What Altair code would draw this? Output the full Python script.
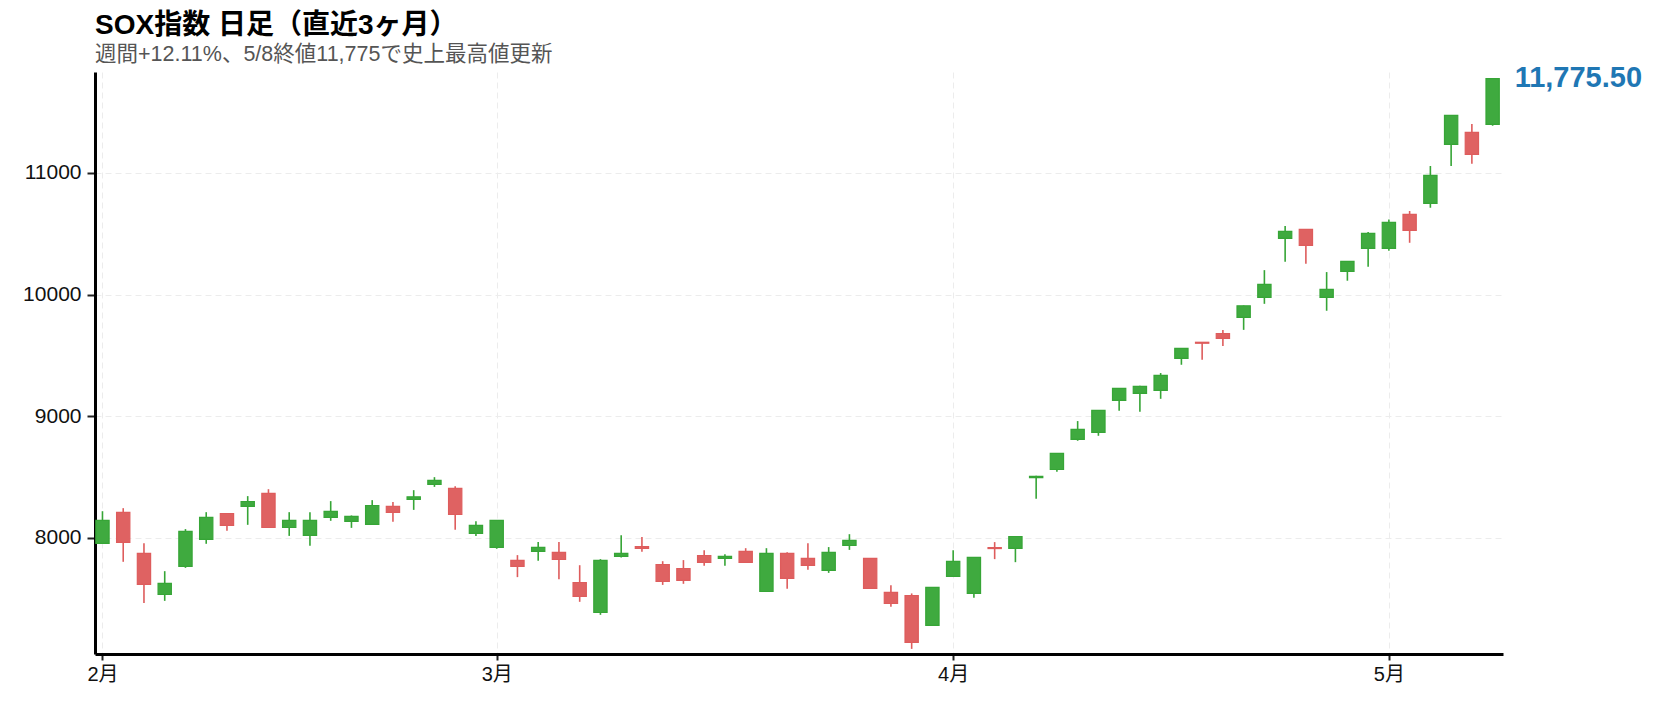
import altair as alt
import pandas as pd

# ---------------- data ----------------
dates = [
    "2026-02-02", "2026-02-03", "2026-02-04", "2026-02-05", "2026-02-06",
    "2026-02-09", "2026-02-10", "2026-02-11", "2026-02-12", "2026-02-13",
    "2026-02-17", "2026-02-18", "2026-02-19", "2026-02-20", "2026-02-23",
    "2026-02-24", "2026-02-25", "2026-02-26", "2026-02-27",
    "2026-03-02", "2026-03-03", "2026-03-04", "2026-03-05", "2026-03-06",
    "2026-03-09", "2026-03-10", "2026-03-11", "2026-03-12", "2026-03-13",
    "2026-03-16", "2026-03-17", "2026-03-18", "2026-03-19", "2026-03-20",
    "2026-03-23", "2026-03-24", "2026-03-25", "2026-03-26", "2026-03-27",
    "2026-03-30", "2026-03-31",
    "2026-04-01", "2026-04-02", "2026-04-06", "2026-04-07", "2026-04-08",
    "2026-04-09", "2026-04-10", "2026-04-13", "2026-04-14", "2026-04-15",
    "2026-04-16", "2026-04-17", "2026-04-20", "2026-04-21", "2026-04-22",
    "2026-04-23", "2026-04-24", "2026-04-27", "2026-04-28", "2026-04-29",
    "2026-04-30",
    "2026-05-01", "2026-05-04", "2026-05-05", "2026-05-06", "2026-05-07",
    "2026-05-08",
]
opens = [
    7954, 8209, 7872, 7534, 7765, 7987, 8200, 8258, 8365, 8085,
    8020, 8168, 8135, 8110, 8258, 8316, 8439, 8406, 8036,
    7921, 7814, 7888, 7880, 7633, 7386, 7847, 7929, 7781, 7748,
    7855, 7831, 7888, 7559, 7872, 7831, 7732, 7937, 7831, 7551,
    7526, 7280,
    7683, 7543, 7920, 7913, 8495, 8562, 8809, 8867, 9130, 9188,
    9212, 9475, 9608, 9680, 9813, 9977, 10462, 10536, 9977, 10191,
    10380,
    10380, 10660, 10750, 11235, 11334, 11400,
]
highs = [
    8219, 8244, 7956, 7726, 8072, 8211, 8203, 8343, 8400, 8211,
    8211, 8302, 8184, 8310, 8294, 8392, 8499, 8425, 8137,
    8146, 7858, 7965, 7965, 7775, 7825, 8022, 8006, 7808, 7817,
    7899, 7866, 7915, 7915, 7882, 7956, 7924, 8030, 7834, 7611,
    7543, 7595,
    7899, 7842, 7965, 8013, 8510, 8696, 8960, 9050, 9231, 9250,
    9355, 9560, 9610, 9708, 9910, 10201, 10563, 10538, 10185, 10275,
    10514,
    10618, 10687, 11057, 11476, 11402, 11778,
]
lows = [
    7950, 7803, 7465, 7482, 7753, 7951, 8058, 8107, 8082, 8016,
    7934, 8140, 8082, 8106, 8132, 8230, 8419, 8066, 8016,
    7910, 7677, 7811, 7660, 7474, 7367, 7839, 7885, 7613, 7622,
    7770, 7770, 7795, 7556, 7581, 7737, 7712, 7901, 7582, 7433,
    7087, 7277,
    7680, 7507, 7825, 7800, 8321, 8543, 8798, 8839, 9044, 9036,
    9143, 9423, 9464, 9577, 9710, 9924, 10270, 10253, 9867, 10114,
    10229,
    10360, 10426, 10714, 11057, 11076, 11388,
]
closes = [
    8143, 7962, 7617, 7625, 8053, 8168, 8102, 8299, 8085, 8143,
    8143, 8217, 8176, 8266, 8209, 8337, 8472, 8192, 8102,
    8143, 7765, 7921, 7822, 7518, 7814, 7872, 7913, 7641, 7650,
    7798, 7847, 7798, 7872, 7666, 7773, 7880, 7979, 7584, 7460,
    7140, 7592,
    7806, 7839, 7912, 8011, 8505, 8694, 8891, 9048, 9229, 9245,
    9336, 9558, 9600, 9640, 9908, 10084, 10520, 10405, 10043, 10273,
    10503,
    10594, 10528, 10980, 11474, 11153, 11775.50,
]
month_names = {2: "2月", 3: "3月", 4: "4月", 5: "5月"}
y_ticks = [8000, 9000, 10000, 11000]
title_text = "SOX指数 日足（直近3ヶ月）"
subtitle_text = "週間+12.11%、5/8終値11,775で史上最高値更新"

FONT = "'Liberation Sans', 'Noto Sans CJK JP', sans-serif"

# ---------------- table ----------------
df = pd.DataFrame({"date": dates, "open": opens, "high": highs,
                   "low": lows, "close": closes})
df["idx"] = range(len(df))
df["dir"] = ["up" if c >= o else "down" for o, c in zip(df["open"], df["close"])]

months = pd.to_datetime(df["date"]).dt.month.tolist()
tick_idx = [i for i in range(len(months)) if i == 0 or months[i] != months[i - 1]]
label_expr = "''"
for i in reversed(tick_idx):
    label_expr = f"datum.value == {i} ? '{month_names[months[i]]}' : ({label_expr})"

n = len(df)
x_scale = alt.Scale(domain=[-0.36, n - 0.5], nice=False, zero=False)
y_scale = alt.Scale(domain=[7045, 11830], nice=False, zero=False)

x_axis = alt.Axis(values=tick_idx, labelExpr=label_expr, title=None, grid=True,
                  labelPadding=4, tickSize=6, labelFontSize=20)
y_axis = alt.Axis(values=y_ticks, format="d", title=None, grid=True,
                  labelPadding=6, tickSize=8, labelFontSize=21)

base = alt.Chart(df)

wicks = base.mark_rule(strokeWidth=1.6).encode(
    x=alt.X("idx:Q", scale=x_scale, axis=x_axis),
    y=alt.Y("low:Q", scale=y_scale, axis=y_axis),
    y2="high:Q",
    stroke=alt.Stroke("dir:N", scale=alt.Scale(domain=["up", "down"],
                      range=["#36a536", "#de5c5c"]), legend=None),
)

bodies = base.transform_calculate(
    x1="datum.idx - 0.32", x2="datum.idx + 0.32"
).mark_rect(strokeWidth=1.2).encode(
    x=alt.X("x1:Q", scale=x_scale, axis=x_axis),
    x2="x2:Q",
    y=alt.Y("open:Q", scale=y_scale, axis=y_axis),
    y2="close:Q",
    fill=alt.Fill("dir:N", scale=alt.Scale(domain=["up", "down"],
                  range=["#3faa3f", "#df6262"]), legend=None),
    stroke=alt.Stroke("dir:N", scale=alt.Scale(domain=["up", "down"],
                      range=["#2f9f2f", "#da5858"]), legend=None),
)

last = alt.Chart(df.tail(1)).mark_text(
    align="left", baseline="middle", dx=22, dy=-1, fontSize=29,
    fontWeight="bold", color="#1f77b4", font=FONT
).encode(
    x=alt.X("idx:Q", scale=x_scale, axis=x_axis),
    y=alt.Y("close:Q", scale=y_scale, axis=y_axis),
    text=alt.Text("close:Q", format=",.2f"),
)

chart = alt.layer(wicks, bodies, last).properties(
    width=1408,
    height=582,
    title=alt.TitleParams(
        text=title_text, subtitle=subtitle_text, anchor="start", frame="group",
        font=FONT, fontSize=28, fontWeight="bold", color="#000000",
        subtitleFont=FONT, subtitleFontSize=21.5, subtitleColor="#555555",
        subtitlePadding=4, offset=-2, dx=0,
    ),
    autosize=alt.AutoSizeParams(type="none"),
    padding={"left": 87, "top": 64, "right": 149, "bottom": 36},
).configure_view(stroke=None).configure_axis(
    domainColor="#000000", domainWidth=3, tickColor="#222222", tickWidth=2,
    labelFont=FONT, labelColor="#111111",
    gridColor="#ececec", gridDash=[6, 4], gridWidth=1,
)

chart.save("out.html", embed_options={"renderer": "svg", "actions": False})
